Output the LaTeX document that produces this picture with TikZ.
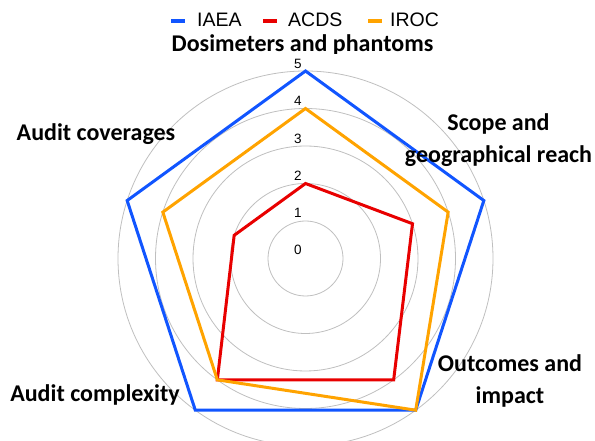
\documentclass[tikz,border=0pt]{standalone}
\usepackage{fontspec}
\setmainfont{Liberation Sans}
\newfontfamily\labelfont{Carlito}
\definecolor{iaeablue}{RGB}{17,85,255}
\definecolor{acdsred}{RGB}{232,0,0}
\definecolor{irocorange}{RGB}{255,163,0}

\begin{document}
\begin{tikzpicture}[x=1pt, y=1pt,
    ring/.style={draw=black!25, line width=0.8pt},
    series/.style={line width=3pt, line join=miter},
    legendline/.style={line width=4.5pt},
    axislabel/.style={font=\labelfont\bfseries\fontsize{24}{32}\selectfont, align=center, inner sep=0pt},
    ticklabel/.style={font=\fontsize{13.5}{16}\selectfont, inner sep=0pt},
    legendtext/.style={font=\fontsize{19.5}{22}\selectfont, anchor=base west, inner sep=0pt}]
        \useasboundingbox (0,0) rectangle (595,441);
        \coordinate (c) at (305.5,182.5);

        \foreach \r in {1,...,5}
            \draw[ring] (c) circle[radius=\r*37.5pt];

        \begin{scope}[shift={(c)}]
            \draw[series, iaeablue] (90:5*37.5) \foreach \a/\v in {18/5, -54/5, -126/5, 162/5} {-- (\a:\v*37.5)} -- cycle;
            \draw[series, acdsred] (90:2*37.5) \foreach \a/\v in {18/3, -54/4, -126/4, 162/2} {-- (\a:\v*37.5)} -- cycle;
            \draw[series, irocorange] (90:4*37.5) \foreach \a/\v in {18/4, -54/5, -126/4, 162/4} {-- (\a:\v*37.5)} -- cycle;
        \end{scope}

        \foreach \v in {0,...,5}
            \node[ticklabel] (t\v) at (298,191+37.2*\v) {\v};

        \begin{scope}
            \clip (0,387.7) rectangle (595,441);
            \node[axislabel, anchor=base] (dosim) at (302.5,389) {Dosimeters and phantoms};
        \end{scope}
        % base anchor of a two-line label sits on its last line
        \node[axislabel, anchor=base] (scope) at (498.5,278) {Scope and\\geographical reach};
        \node[axislabel, anchor=base] (outcomes) at (510,37) {Outcomes and\\impact};
        \node[axislabel, anchor=base] (complexity) at (95,39) {Audit complexity};
        \node[axislabel, anchor=base] (coverages) at (96,300) {Audit coverages};

        \draw[legendline, iaeablue] (171,420) -- (185,420);
        \node[legendtext] (leg1) at (197,414) {IAEA};
        \draw[legendline, acdsred] (263,420) -- (277,420);
        \node[legendtext] (leg2) at (288,414) {ACDS};
        \draw[legendline, irocorange] (368,420) -- (382,420);
        \node[legendtext] (leg3) at (390,414) {IROC};
    \end{tikzpicture}
\end{document}
